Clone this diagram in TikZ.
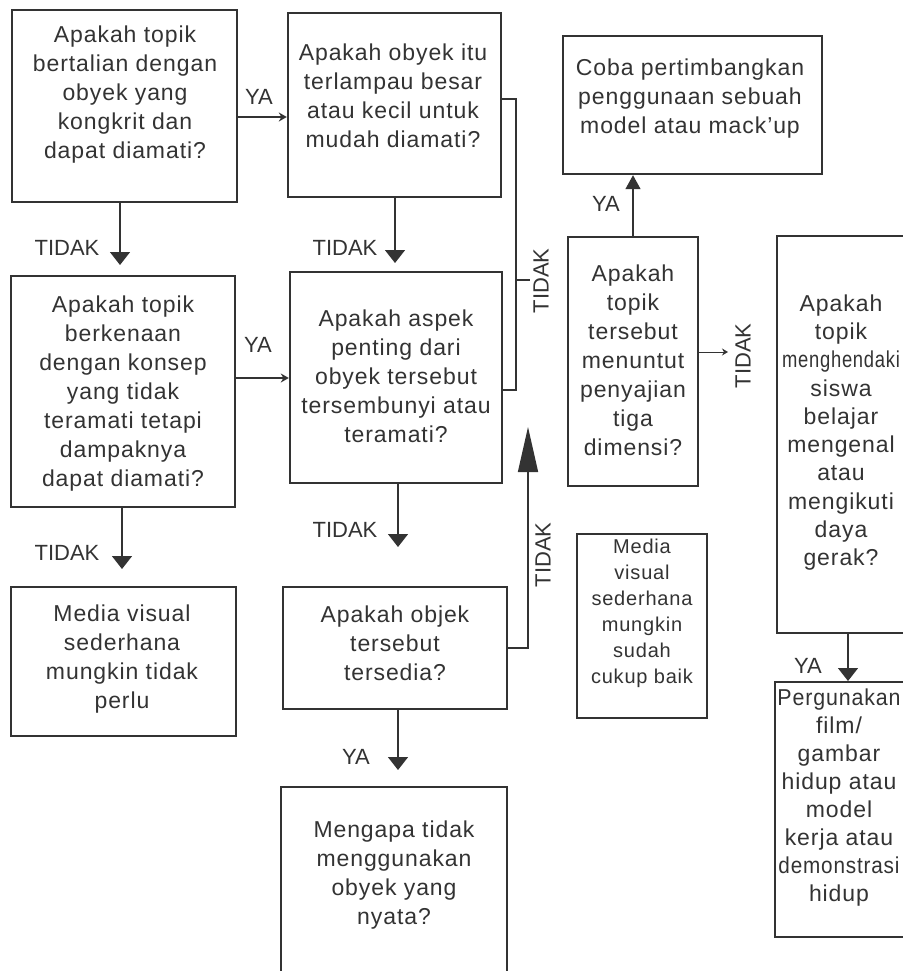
\documentclass[tikz,border=0pt]{standalone}
\usepackage{fontspec}
\usepackage{graphicx}
\setmainfont{Liberation Sans}[LetterSpace=4]
\newfontfamily\lblfont{Liberation Sans}
\usetikzlibrary{arrows.meta}
\definecolor{ink}{HTML}{333333}
\begin{document}
\begin{tikzpicture}[x=1pt,y=-1pt,
  box/.style={draw=ink, line width=2.4pt, rectangle, inner sep=0pt},
  txt/.style={text=ink, align=center, font=\fontsize{23}{29}\selectfont, inner sep=0pt},
  txts/.style={text=ink, align=center, font=\fontsize{20}{26}\selectfont, inner sep=0pt},
  lbl/.style={text=ink, font=\lblfont\fontsize{22}{22}\selectfont, inner sep=0pt},
  conn/.style={draw=ink, line width=1.5pt},
  dn/.style={-{Triangle[width=20pt,length=13pt]}},
  big/.style={-{Triangle[width=20pt,length=45pt]}},
  upsm/.style={-{Triangle[width=15pt,length=14pt]}},
  ya/.style={-{Stealth[length=8pt,width=9pt]}}
]
\fill[white] (0,0) rectangle (902,971);
\useasboundingbox (0,0) rectangle (902,971);

% boxes
\node[box, minimum width=225pt, minimum height=192pt] (A) at (124.5,106) {};
\node[box, minimum width=213pt, minimum height=184pt] (B) at (394.5,105) {};
\node[box, minimum width=259pt, minimum height=138pt] (Coba) at (692.5,105) {};
\node[box, minimum width=224pt, minimum height=231pt] (A2) at (123,391.5) {};
\node[box, minimum width=212pt, minimum height=211pt] (B2) at (396,377.5) {};
\node[box, minimum width=130pt, minimum height=249pt] (C) at (633,361.5) {};
\node[box, minimum width=129pt, minimum height=397pt] (D) at (841.5,434.5) {};
\node[box, minimum width=225pt, minimum height=149pt] (A3) at (123.5,661.5) {};
\node[box, minimum width=224pt, minimum height=122pt] (B3) at (395,648) {};
\node[box, minimum width=130pt, minimum height=184pt] (C3) at (642,626) {};
\node[box, minimum width=226pt, minimum height=198pt] (B4) at (394,886) {};
\node[box, minimum width=131pt, minimum height=255pt] (D2) at (840.5,809.5) {};

% texts
\node[txt] (tA) at (125,95) {Apakah topik\\bertalian dengan\\obyek yang\\kongkrit dan\\dapat diamati?};
\node[txt] (tB) at (393,95.5) {Apakah obyek itu\\terlampau besar\\atau kecil untuk\\mudah diamati?};
\node[txt] (tCoba) at (690,99) {Coba pertimbangkan\\penggunaan sebuah\\model atau mack'up};
\node[txt] (tA2) at (123,393.5) {Apakah topik\\berkenaan\\dengan konsep\\yang tidak\\teramati tetapi\\dampaknya\\dapat diamati?};
\node[txt] (tB2) at (396,376.5) {Apakah aspek\\penting dari\\obyek tersebut\\tersembunyi atau\\teramati?};
\node[txt] (tC) at (633,360.5) {Apakah\\topik\\tersebut\\menuntut\\penyajian\\tiga\\dimensi?};
\node[txt, font=\fontsize{23}{28.3}\selectfont] (tD) at (841,432.5) {Apakah\\topik\\\scalebox{0.8}[1]{menghendaki}\\siswa\\belajar\\mengenal\\atau\\mengikuti\\daya\\gerak?};
\node[txt] (tA3) at (122,659) {Media visual\\sederhana\\mungkin tidak\\perlu};
\node[txt] (tB3) at (395,643.5) {Apakah objek\\tersebut\\tersedia?};
\node[txts] (tC3) at (642,613) {Media\\visual\\sederhana\\mungkin\\sudah\\cukup baik};
\node[txt] (tB4) at (394,875.5) {Mengapa tidak\\menggunakan\\obyek yang\\nyata?};
\node[txt, font=\fontsize{23}{28}\selectfont] (tD2) at (839,798) {\scalebox{0.93}[1]{Pergunakan}\\film/\\gambar\\hidup atau\\model\\kerja atau\\\scalebox{0.9}[1]{demonstrasi}\\hidup};

% YA horizontal arrows
\coordinate (yAB) at (0,117);
\draw[conn, ya] (A.east |- yAB) -- (B.west |- yAB);
\coordinate (yA2B2) at (0,378);
\draw[conn, ya] (A2.east |- yA2B2) -- (B2.west |- yA2B2);

% down arrows
\coordinate (pA) at (120,265);
\draw[conn,dn] (A.south -| pA) -- (pA);
\coordinate (pB) at (395,263);
\draw[conn,dn] (B.south -| pB) -- (pB);
\coordinate (pA2) at (122,569);
\draw[conn,dn] (A2.south -| pA2) -- (pA2);
\coordinate (pB2) at (398,547);
\draw[conn,dn] (B2.south -| pB2) -- (pB2);
\coordinate (pB3) at (398,770);
\draw[conn,dn] (B3.south -| pB3) -- (pB3);
\coordinate (pD) at (848,681);
\draw[conn,dn] (D.south -| pD) -- (pD);

% C to Coba
\draw[conn, upsm] (C.north) -- (C.north |- Coba.south);
% C to D
\coordinate (pC) at (728,352);
\draw[draw=ink, line width=1pt, -{Stealth[length=6pt,width=7pt]}] (C.east |- pC) -- (pC);

% bracket
\coordinate (br1) at (516,99);
\coordinate (br2) at (516,390);
\coordinate (brt) at (516,280);
\coordinate (brtE) at (530,280);
\draw[conn] (B.east |- br1) -- (br1) -- (br2) -- (B2.east |- br2);
\draw[conn] (brt) -- (brtE);

% big up arrow
\coordinate (pUp) at (528,427);
\draw[conn, big] (B3.east) -| (pUp);

% labels
\node[lbl] (l1) at (259,97) {YA};
\node[lbl] (l2) at (67,248) {TIDAK};
\node[lbl] (l3) at (345,248) {TIDAK};
\node[lbl] (l4) at (258,345) {YA};
\node[lbl] (l5) at (67,553) {TIDAK};
\node[lbl] (l6) at (345,530) {TIDAK};
\node[lbl] (l7) at (356,757) {YA};
\node[lbl,rotate=90] (l8) at (541,281) {TIDAK};
\node[lbl,rotate=90] (l9) at (543,555) {TIDAK};
\node[lbl] (l10) at (606,204) {YA};
\node[lbl,rotate=90] (l11) at (743,356) {TIDAK};
\node[lbl] (l12) at (808,666) {YA};
\end{tikzpicture}
\end{document}
